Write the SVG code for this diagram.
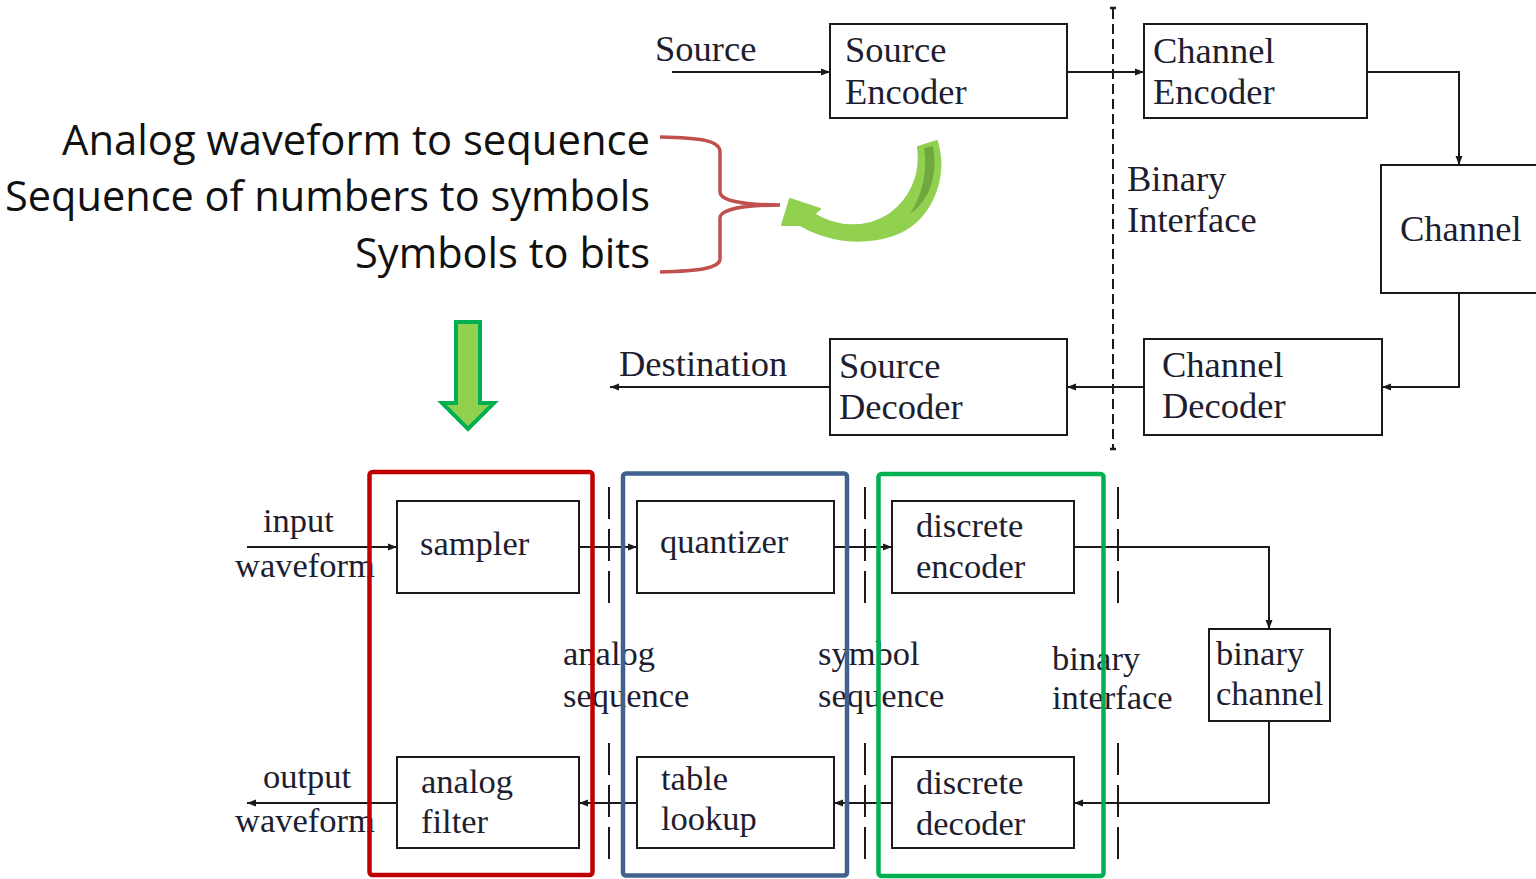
<svg xmlns="http://www.w3.org/2000/svg" width="1536" height="879" viewBox="0 0 1536 879">
  <style>
    .box { fill: none; stroke: #1a1a1a; stroke-width: 2; }
    .wire { fill: none; stroke: #1a1a1a; stroke-width: 2; }
    .arrow { marker-end: url(#head); }
    .tt { font-family: "Liberation Serif", "DejaVu Serif", serif; font-size: 36.5px; fill: #1e1e30; }
    .lt { font-family: "Liberation Serif", "DejaVu Serif", serif; font-size: 34.5px; fill: #1e1e30; }
    .note { font-family: "Open Sans", "Liberation Sans", sans-serif; font-size: 42px; fill: #111; text-anchor: end; }
    .dashS { fill: none; stroke: #1a1a1a; stroke-width: 2; stroke-dasharray: 10 5; }
    .dashL { fill: none; stroke: #1a1a1a; stroke-width: 2; stroke-dasharray: 32 10; }
    .stage { fill: none; stroke-width: 4.5; }
  </style>
  <defs>
    <marker id="head" markerUnits="userSpaceOnUse" markerWidth="10" markerHeight="8" refX="9" refY="4" orient="auto">
      <path d="M0,0.5 L9,4 L0,7.5 Z" fill="#1a1a1a"/>
    </marker>
  </defs>
  <rect width="1536" height="879" fill="#ffffff"/>

  <!-- explanatory notes with brace -->
  <g id="notes">
    <text class="note" x="650" y="155" textLength="588" lengthAdjust="spacingAndGlyphs">Analog waveform to sequence</text>
    <text class="note" x="650" y="211" textLength="645" lengthAdjust="spacingAndGlyphs">Sequence of numbers to symbols</text>
    <text class="note" x="650" y="268" textLength="295" lengthAdjust="spacingAndGlyphs">Symbols to bits</text>
  </g>
  <g id="brace">
    <path d="M660,137 C700,138 720,140 720,152 L720,192 C720,200 740,205 780,205 C740,205 720,210 720,218 L720,259 C720,268 700,271 660,272" fill="none" stroke="#c0504d" stroke-width="3.5"/>
  </g>
  <g id="curved-arrow">
    <path d="M918,147 L937,141 C948,180 930,222 893,235 C860,246 825,240 800,225 L782,225 L790,199 L820,209 L814,214 C837,228 866,230 890,214 C910,200 922,175 918,147 Z" fill="#92d050" stroke="#92d050" stroke-width="2" stroke-linejoin="round"/>
    <path d="M924,148 L933,146 C938,175 930,200 910,214 C922,195 928,172 924,148 Z" fill="#70a83f"/>
  </g>
  <g id="down-arrow">
    <path d="M456,322 L480,322 L480,403 L494,403 L468,429 L442,403 L456,403 Z" fill="#92d050" stroke="#00b050" stroke-width="4" stroke-linejoin="miter"/>
  </g>

  <!-- communication system overview -->
  <g id="interface-line">
    <line class="dashS" x1="1113" y1="9" x2="1113" y2="448"/>
    <line x1="1110" y1="8" x2="1116" y2="8" stroke="#1a1a1a" stroke-width="2.5"/>
    <line x1="1110" y1="449" x2="1116" y2="449" stroke="#1a1a1a" stroke-width="2.5"/>
    <text class="tt" x="1127" y="191">Binary</text>
    <text class="tt" x="1127" y="232">Interface</text>
  </g>
  <g id="source-label"><text class="tt" x="655" y="61">Source</text></g>
  <g id="destination-label"><text class="tt" x="619" y="376">Destination</text></g>
  <g id="source-encoder">
    <rect class="box" x="830" y="24" width="237" height="94"/>
    <text class="tt" x="845" y="62">Source</text>
    <text class="tt" x="845" y="104">Encoder</text>
  </g>
  <g id="channel-encoder">
    <rect class="box" x="1144" y="24" width="223" height="94"/>
    <text class="tt" x="1153" y="63">Channel</text>
    <text class="tt" x="1153" y="104">Encoder</text>
  </g>
  <g id="channel">
    <path class="box" d="M1538,165 L1381,165 L1381,293 L1538,293"/>
    <text class="tt" x="1400" y="241">Channel</text>
  </g>
  <g id="channel-decoder">
    <rect class="box" x="1144" y="339" width="238" height="96"/>
    <text class="tt" x="1162" y="377">Channel</text>
    <text class="tt" x="1162" y="418">Decoder</text>
  </g>
  <g id="source-decoder">
    <rect class="box" x="830" y="339" width="237" height="96"/>
    <text class="tt" x="839" y="378">Source</text>
    <text class="tt" x="839" y="419">Decoder</text>
  </g>

  <!-- pipeline detail -->
  <g id="input-label">
    <text class="lt" x="263" y="532">input</text>
    <text class="lt" x="235" y="577">waveform</text>
  </g>
  <g id="output-label">
    <text class="lt" x="263" y="788">output</text>
    <text class="lt" x="235" y="832">waveform</text>
  </g>
  <g id="sampler">
    <rect class="box" x="397" y="501" width="182" height="92"/>
    <text class="lt" x="420" y="555">sampler</text>
  </g>
  <g id="analog-filter">
    <rect class="box" x="397" y="757" width="182" height="91"/>
    <text class="lt" x="421" y="793">analog</text>
    <text class="lt" x="421" y="833">filter</text>
  </g>
  <g id="quantizer">
    <rect class="box" x="637" y="501" width="197" height="92"/>
    <text class="lt" x="660" y="553">quantizer</text>
  </g>
  <g id="table-lookup">
    <rect class="box" x="637" y="757" width="197" height="91"/>
    <text class="lt" x="661" y="790">table</text>
    <text class="lt" x="661" y="830">lookup</text>
  </g>
  <g id="discrete-encoder">
    <rect class="box" x="892" y="501" width="182" height="92"/>
    <text class="lt" x="916" y="537">discrete</text>
    <text class="lt" x="916" y="578">encoder</text>
  </g>
  <g id="discrete-decoder">
    <rect class="box" x="892" y="757" width="182" height="91"/>
    <text class="lt" x="916" y="794">discrete</text>
    <text class="lt" x="916" y="835">decoder</text>
  </g>
  <g id="binary-channel">
    <rect class="box" x="1209" y="629" width="121" height="92"/>
    <text class="lt" x="1216" y="665">binary</text>
    <text class="lt" x="1216" y="705">channel</text>
  </g>
  <g id="interface-labels">
    <text class="lt" x="563" y="665">analog</text>
    <text class="lt" x="563" y="707">sequence</text>
    <text class="lt" x="818" y="665">symbol</text>
    <text class="lt" x="818" y="707">sequence</text>
    <text class="lt" x="1052" y="670">binary</text>
    <text class="lt" x="1052" y="709">interface</text>
  </g>
  <g id="interface-dashes">
    <line class="dashL" x1="609" y1="487" x2="609" y2="607"/>
    <line class="dashL" x1="609" y1="743" x2="609" y2="863"/>
    <line class="dashL" x1="865" y1="487" x2="865" y2="607"/>
    <line class="dashL" x1="865" y1="743" x2="865" y2="863"/>
    <line class="dashL" x1="1118" y1="487" x2="1118" y2="607"/>
    <line class="dashL" x1="1118" y1="743" x2="1118" y2="863"/>
  </g>

  <g id="connectors">
    <line class="wire arrow" x1="672" y1="72" x2="830" y2="72"/>
    <line class="wire arrow" x1="1067" y1="72" x2="1144" y2="72"/>
    <polyline class="wire arrow" points="1367,72 1459,72 1459,165"/>
    <polyline class="wire arrow" points="1459,293 1459,387 1382,387"/>
    <line class="wire arrow" x1="1144" y1="387" x2="1067" y2="387"/>
    <line class="wire arrow" x1="830" y1="387" x2="610" y2="387"/>

    <line class="wire arrow" x1="247" y1="547" x2="397" y2="547"/>
    <line class="wire arrow" x1="579" y1="547" x2="637" y2="547"/>
    <line class="wire arrow" x1="834" y1="547" x2="892" y2="547"/>
    <polyline class="wire arrow" points="1074,547 1269,547 1269,629"/>
    <polyline class="wire arrow" points="1269,721 1269,803 1074,803"/>
    <line class="wire arrow" x1="892" y1="803" x2="834" y2="803"/>
    <line class="wire arrow" x1="637" y1="803" x2="579" y2="803"/>
    <line class="wire arrow" x1="397" y1="803" x2="247" y2="803"/>
  </g>

  <!-- highlighted stages -->
  <g id="stage-sampling"><rect class="stage" x="369.5" y="472" width="223" height="403" rx="3" stroke="#c00000"/></g>
  <g id="stage-quantizing"><rect class="stage" x="623" y="473.5" width="224" height="402" rx="3" stroke="#41618f"/></g>
  <g id="stage-coding"><rect class="stage" x="878.5" y="474" width="225" height="402" rx="3" stroke="#00b050"/></g>
</svg>
